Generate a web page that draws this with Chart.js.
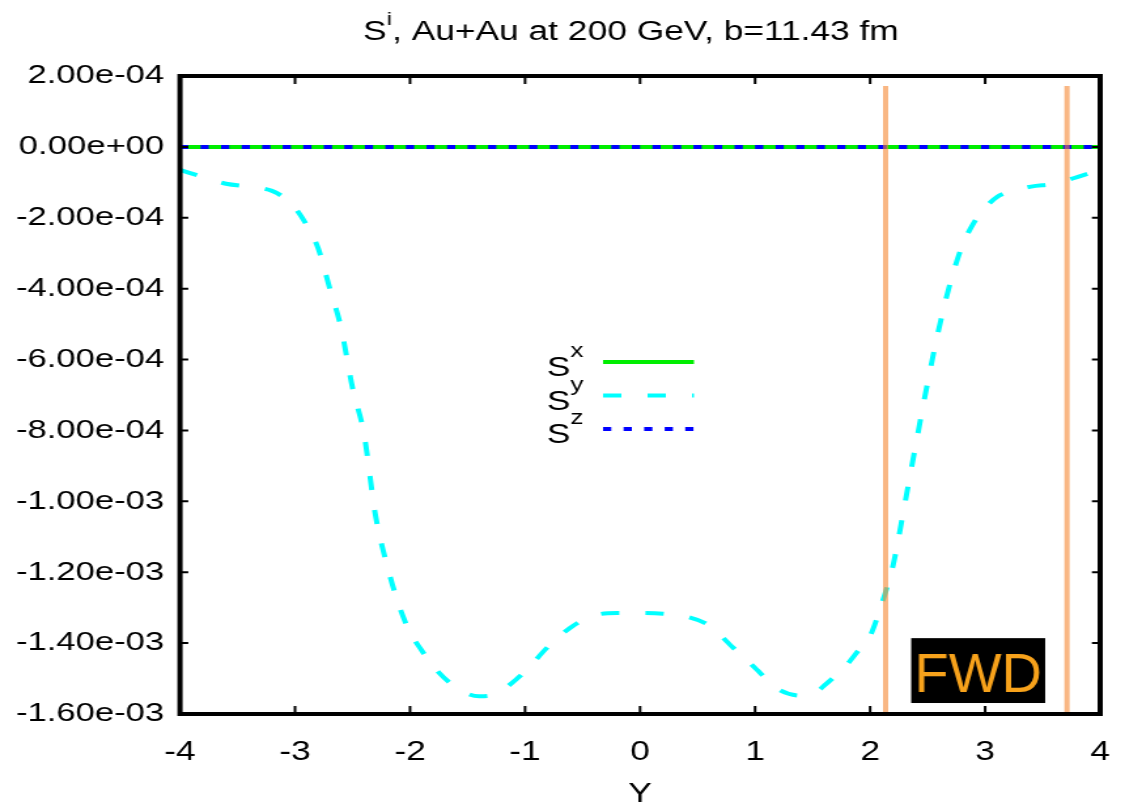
<!DOCTYPE html>
<html>
<head>
<meta charset="utf-8">
<script src="https://cdn.jsdelivr.net/npm/chart.js@4.4.1/dist/chart.umd.min.js"></script>
<style>
  html, body { margin: 0; background: #fff; }
  canvas { display: block; }
</style>
</head>
<body>
<!-- drawn narrow and stretched sideways, like the gnuplot original -->
<canvas id="chart" width="860" height="808" style="width:1125px;height:808px"></canvas>
<script>
// rapidity grid for S^y
const rapidity = [-4.0, -3.8, -3.6, -3.4, -3.2, -3.1, -3.0, -2.9, -2.8, -2.7,
                  -2.6, -2.5, -2.4, -2.3, -2.2, -2.1, -2.0, -1.9, -1.8, -1.6,
                  -1.4, -1.3, -1.2, -1.0, -0.8, -0.6, -0.4, -0.2, 0.0, 0.2,
                  0.4, 0.6, 0.8, 1.0, 1.2, 1.4, 1.5, 1.6, 1.8, 1.9,
                  2.0, 2.1, 2.2, 2.3, 2.4, 2.5, 2.6, 2.7, 2.8, 2.9,
                  3.0, 3.1, 3.2, 3.4, 3.6, 3.8, 4.0];

const spinY = [-0.65e-4, -0.85e-4, -1.04e-4, -1.12e-4, -1.24e-4, -1.42e-4, -1.72e-4, -2.2e-4, -2.85e-4, -3.97e-4,
               -5.1e-4, -6.8e-4, -8.1e-4, -10.4e-4, -11.8e-4, -12.9e-4, -13.7e-4, -14.2e-4, -14.65e-4, -15.25e-4,
               -15.5e-4, -15.48e-4, -15.33e-4, -14.8e-4, -14.1e-4, -13.55e-4, -13.22e-4, -13.15e-4, -13.15e-4, -13.17e-4,
               -13.25e-4, -13.5e-4, -14.1e-4, -14.7e-4, -15.3e-4, -15.48e-4, -15.45e-4, -15.2e-4, -14.6e-4, -14.2e-4,
               -13.8e-4, -12.9e-4, -11.8e-4, -10.1e-4, -8.35e-4, -6.65e-4, -5.1e-4, -3.8e-4, -2.8e-4, -2.15e-4,
               -1.72e-4, -1.42e-4, -1.28e-4, -1.12e-4, -1.04e-4, -0.85e-4, -0.65e-4];

// S^x and S^z are flat at zero
const zeroGrid = [-4, -3, -2, -1, 0, 1, 2, 3, 4];
const spinX = [0, 0, 0, 0, 0, 0, 0, 0, 0];
const spinZ = [0, 0, 0, 0, 0, 0, 0, 0, 0];

// forward detector edges (orange bars) and FWD label box
const fwdEdges = [2.135, 3.712];
const fwdBarTop = 1.72e-4;
const fwdBoxX = [2.357, 3.522];
const fwdBoxY = [-13.86e-4, -15.69e-4];

const xMin = -4, xMax = 4, xStep = 1;
const yMin = -1.6e-3, yMax = 2e-4, yStep = 2e-4;

const STRETCH = 1125 / 860;
const FONT = "'Liberation Sans', Arial, Helvetica, sans-serif";
const SY_DASH = [14, 20];
const SZ_DASH = [6.3, 9.4];

function pts(xs, ys) {
    return xs.map((x, i) => ({ x: x, y: ys[i] }));
}

function fmtExp(v) {
    if (Math.abs(v) < 1e-12) v = 0;
    return v.toExponential(2).replace(/e([+-])(\d)$/, (m, s, d) => 'e' + s + '0' + d);
}

// text with one superscript, returns end x
function supText(ctx, x, y, base, sup, rest, size, supSize, raise) {
    ctx.font = size + 'px ' + FONT;
    ctx.fillText(base, x, y);
    x += ctx.measureText(base).width;
    ctx.font = supSize + 'px ' + FONT;
    ctx.fillText(sup, x, y - raise);
    x += ctx.measureText(sup).width;
    if (rest) {
        ctx.font = size + 'px ' + FONT;
        ctx.fillText(rest, x, y);
        x += ctx.measureText(rest).width;
    }
    return x;
}

function supWidth(ctx, base, sup, rest, size, supSize) {
    ctx.font = size + 'px ' + FONT;
    let w = ctx.measureText(base + (rest || '')).width;
    ctx.font = supSize + 'px ' + FONT;
    return w + ctx.measureText(sup).width;
}

const legendItems = [
    { sup: 'x', color: '#00ee00', dash: [] },
    { sup: 'y', color: '#00ffff', dash: SY_DASH },
    { sup: 'z', color: '#0000ff', dash: SZ_DASH }
];

const decorPlugin = {
    id: 'decor',
    afterDraw(chart) {
        const { ctx, chartArea: a, scales: { x, y } } = chart;
        ctx.save();

        // inward ticks, mirrored
        ctx.strokeStyle = '#000';
        ctx.lineWidth = 2;
        ctx.beginPath();
        x.ticks.forEach(t => {
            if (t.value <= xMin || t.value >= xMax) return;
            const px = x.getPixelForValue(t.value);
            ctx.moveTo(px, a.bottom); ctx.lineTo(px, a.bottom - 8);
            ctx.moveTo(px, a.top); ctx.lineTo(px, a.top + 8);
        });
        y.ticks.forEach(t => {
            if (t.value <= yMin + 1e-9 || t.value >= yMax - 1e-9) return;
            const py = y.getPixelForValue(t.value);
            ctx.moveTo(a.left, py); ctx.lineTo(a.left + 6.3, py);
            ctx.moveTo(a.right, py); ctx.lineTo(a.right - 6.3, py);
        });
        ctx.stroke();

        // frame
        ctx.lineWidth = 4;
        ctx.strokeRect(a.left, a.top, a.right - a.left, a.bottom - a.top);

        // FWD label
        const bx1 = x.getPixelForValue(fwdBoxX[0]), bx2 = x.getPixelForValue(fwdBoxX[1]);
        const by1 = y.getPixelForValue(fwdBoxY[0]), by2 = y.getPixelForValue(fwdBoxY[1]);
        ctx.fillStyle = '#000';
        ctx.fillRect(bx1, by1, bx2 - bx1, by2 - by1);
        ctx.save();
        ctx.translate((bx1 + bx2) / 2, (by1 + by2) / 2);
        ctx.scale(1 / STRETCH, 1);
        ctx.fillStyle = '#f7a21b';
        ctx.font = '56px ' + FONT;
        ctx.textAlign = 'center';
        ctx.textBaseline = 'alphabetic';
        ctx.fillText('FWD', 0, 21);
        ctx.restore();

        // title
        ctx.fillStyle = '#000';
        ctx.textAlign = 'left';
        ctx.textBaseline = 'alphabetic';
        const rest = ', Au+Au at 200 GeV, b=11.43 fm';
        const tw = supWidth(ctx, 'S', 'i', rest, 27, 19);
        const tx = (a.left + a.right) / 2 - 7 - tw / 2;
        supText(ctx, tx, 40, 'S', 'i', rest, 27, 19, 15);

        // legend
        const rowY = [362, 395.5, 429];
        legendItems.forEach((it, i) => {
            const w = supWidth(ctx, 'S', it.sup, '', 27, 20);
            ctx.fillStyle = '#000';
            supText(ctx, 446 - w, rowY[i] + 14, 'S', it.sup, '', 27, 20, 19);
            ctx.strokeStyle = it.color;
            ctx.lineWidth = 4;
            ctx.setLineDash(it.dash);
            ctx.beginPath();
            ctx.moveTo(461, rowY[i]);
            ctx.lineTo(530.5, rowY[i]);
            ctx.stroke();
        });
        ctx.setLineDash([]);
        ctx.restore();
    }
};

const orange = 'rgba(245, 135, 50, 0.6)';

new Chart(document.getElementById('chart'), {
    type: 'line',
    data: {
        datasets: [
            ...fwdEdges.map(e => ({
                label: 'FWD edge',
                data: pts([e, e], [fwdBarTop, yMin]),
                borderColor: orange,
                borderWidth: 4,
                order: 0
            })),
            {
                label: 'Sz',
                data: pts(zeroGrid, spinZ),
                borderColor: '#0000ff',
                borderWidth: 4,
                borderDash: SZ_DASH,
                order: 1
            },
            {
                label: 'Sy',
                data: pts(rapidity, spinY),
                borderColor: '#00ffff',
                borderWidth: 4,
                borderDash: SY_DASH,
                cubicInterpolationMode: 'monotone',
                order: 2
            },
            {
                label: 'Sx',
                data: pts(zeroGrid, spinX),
                borderColor: '#00ee00',
                borderWidth: 4,
                order: 3
            }
        ]
    },
    options: {
        responsive: false,
        devicePixelRatio: 1,
        animation: false,
        layout: { padding: { top: 76, right: 19, left: 0, bottom: 0 } },
        elements: { point: { radius: 0 }, line: { borderCapStyle: 'butt' } },
        plugins: {
            legend: { display: false },
            tooltip: { enabled: false },
            title: { display: false }
        },
        scales: {
            x: {
                type: 'linear',
                min: xMin,
                max: xMax,
                grid: { display: false },
                border: { display: false },
                ticks: {
                    stepSize: xStep,
                    padding: 14,
                    color: '#000',
                    font: { family: FONT, size: 27 }
                },
                title: {
                    display: true,
                    text: 'Y',
                    color: '#000',
                    font: { family: FONT, size: 27, lineHeight: 1 },
                    padding: 0
                },
                afterFit(s) {
                    s.height = 94;
                    s.paddingLeft = 0; s.paddingRight = 0;
                }
            },
            y: {
                min: yMin,
                max: yMax,
                grid: { display: false },
                border: { display: false },
                ticks: {
                    stepSize: yStep,
                    padding: 4,
                    color: '#000',
                    font: { family: FONT, size: 26.5 },
                    callback: v => fmtExp(v)
                },
                afterFit(s) {
                    s.width = 137.6;
                    s.paddingTop = 0; s.paddingBottom = 0;
                }
            }
        }
    },
    plugins: [decorPlugin]
});
</script>
</body>
</html>
